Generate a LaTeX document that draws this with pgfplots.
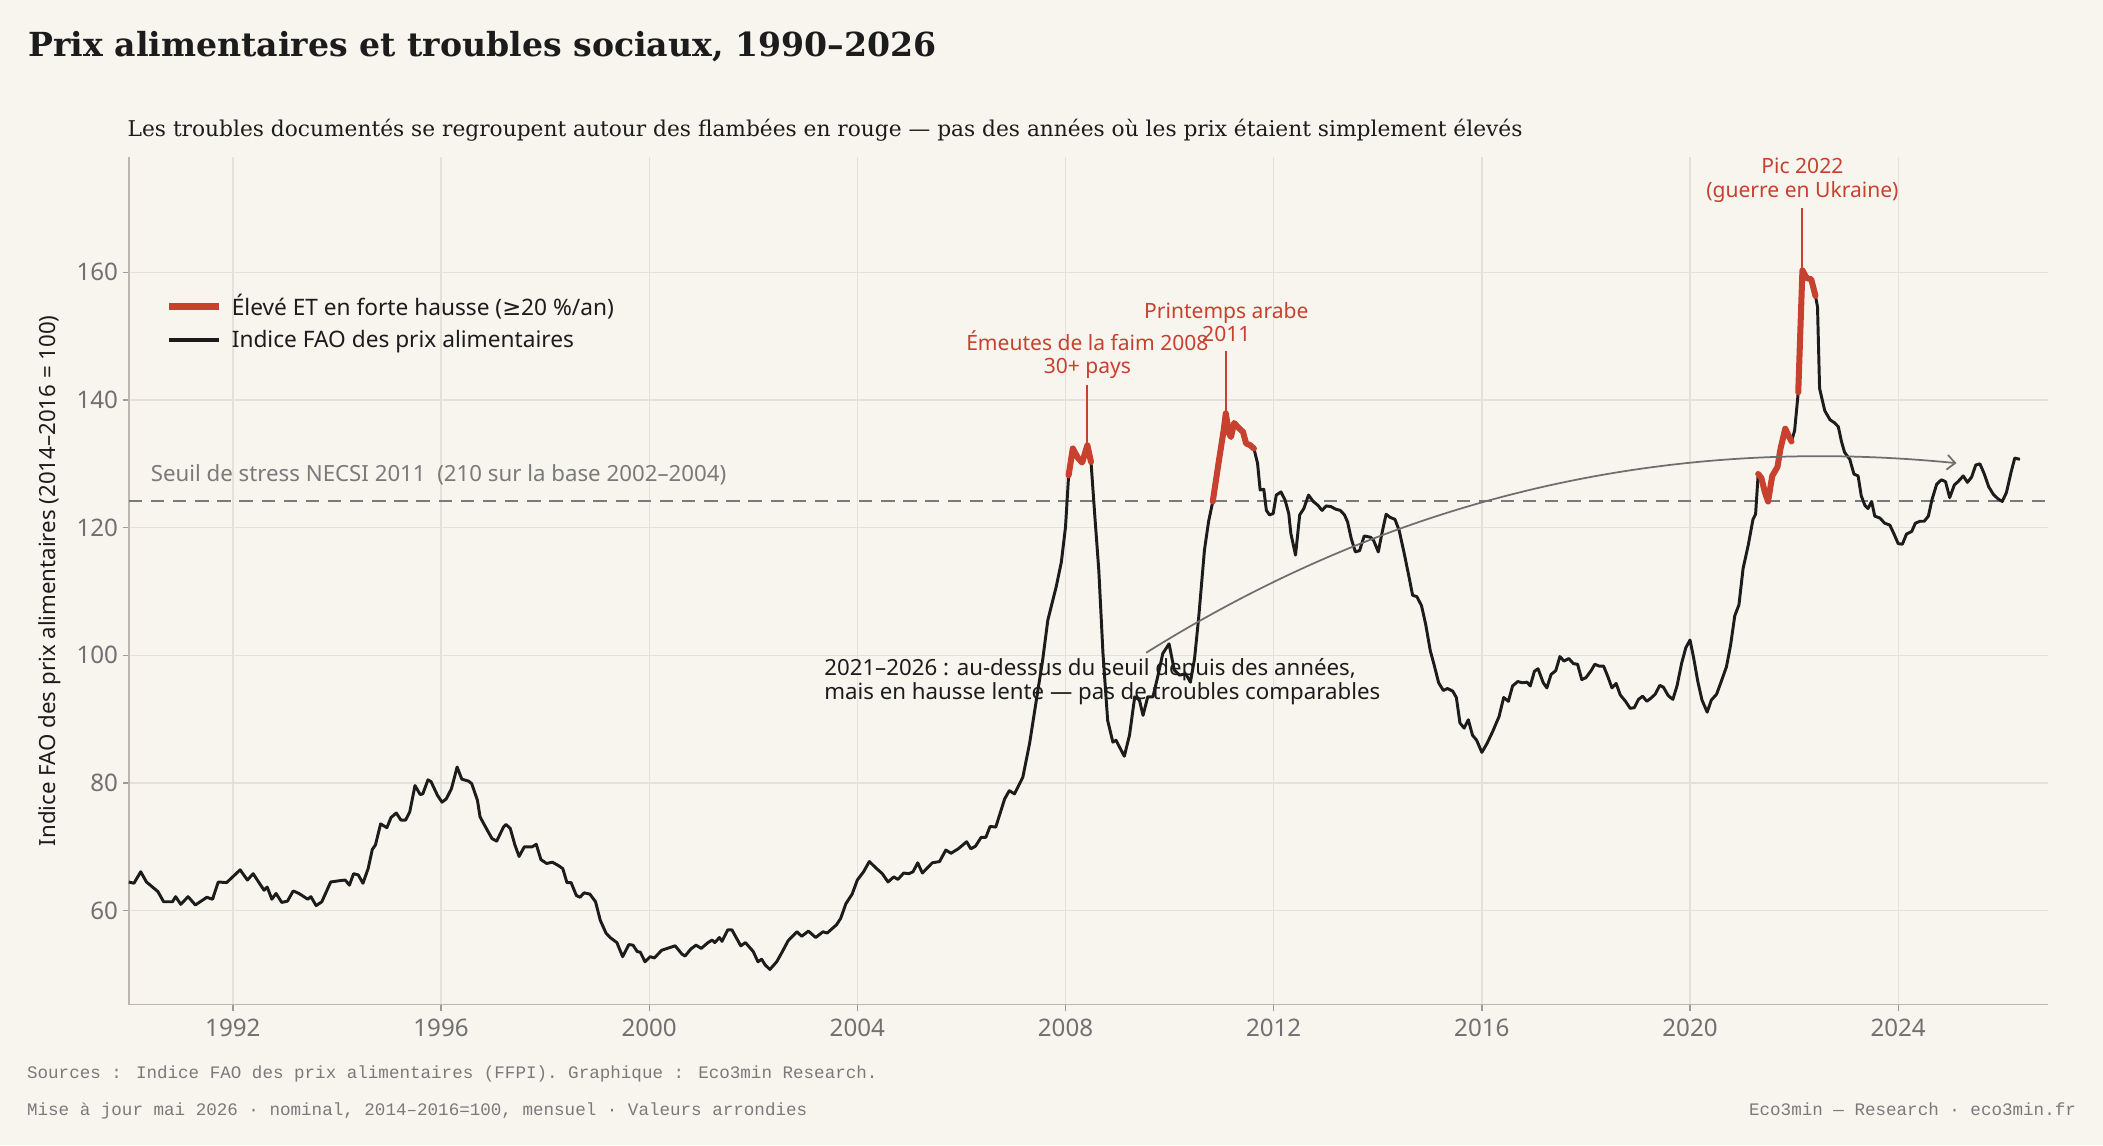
\documentclass[border=0pt]{standalone}
\usepackage{fontspec}
\setmainfont{Noto Sans}
\newfontfamily\serifS{DejaVu Serif}
\newfontfamily\monoT{Liberation Mono}
\newfontfamily\dejavu{DejaVu Sans}
\usepackage{pgfplots}
\usepackage{pgfplotstable}
\pgfplotsset{compat=1.18}
\usetikzlibrary{arrows.meta}

\definecolor{bg}{HTML}{F8F5EF}
\definecolor{redc}{HTML}{C8412F}
\definecolor{linec}{HTML}{1C1C1C}
\definecolor{gridc}{HTML}{E4E1DB}
\definecolor{spinec}{HTML}{BCB7AD}
\definecolor{tickc}{HTML}{707070}
\definecolor{thrc}{HTML}{7A7A7A}
\definecolor{arrc}{HTML}{6E6E6E}
\definecolor{footc}{HTML}{7A7A7A}

\pgfplotstableread{
x y
1990.00 64.5
1990.10 64.3
1990.23 66.1
1990.34 64.5
1990.56 63.0
1990.67 61.4
1990.84 61.4
1990.90 62.2
1991.00 61.0
1991.14 62.2
1991.28 60.9
1991.50 62.1
1991.61 61.8
1991.72 64.5
1991.88 64.4
1992.14 66.4
1992.28 64.8
1992.39 65.8
1992.60 63.2
1992.66 63.7
1992.75 61.8
1992.83 62.7
1992.94 61.3
1993.05 61.5
1993.16 63.1
1993.27 62.7
1993.44 61.8
1993.50 62.2
1993.60 60.8
1993.71 61.4
1993.88 64.5
1994.05 64.7
1994.16 64.8
1994.24 64.0
1994.32 65.8
1994.41 65.6
1994.50 64.3
1994.60 66.6
1994.68 69.6
1994.74 70.3
1994.84 73.6
1994.96 73.0
1995.04 74.6
1995.14 75.3
1995.23 74.2
1995.32 74.2
1995.40 75.5
1995.50 79.6
1995.60 78.2
1995.65 78.3
1995.75 80.5
1995.81 80.2
1995.93 78.1
1996.02 77.0
1996.10 77.5
1996.20 79.1
1996.31 82.5
1996.40 80.6
1996.53 80.3
1996.59 79.9
1996.70 77.3
1996.75 74.7
1996.87 72.9
1996.98 71.3
1997.07 70.9
1997.20 73.1
1997.25 73.5
1997.33 72.9
1997.42 70.3
1997.50 68.5
1997.60 70.0
1997.75 70.0
1997.83 70.4
1997.92 68.0
1998.03 67.4
1998.14 67.6
1998.25 67.1
1998.34 66.6
1998.42 64.4
1998.50 64.4
1998.60 62.4
1998.67 62.1
1998.75 62.8
1998.86 62.6
1998.97 61.4
1999.06 58.5
1999.17 56.5
1999.25 55.8
1999.38 55.0
1999.49 52.8
1999.61 54.7
1999.69 54.6
1999.77 53.6
1999.83 53.5
1999.92 52.0
2000.02 52.8
2000.10 52.6
2000.24 53.8
2000.35 54.1
2000.50 54.5
2000.63 53.2
2000.69 52.9
2000.80 54.0
2000.90 54.6
2001.00 54.1
2001.13 55.0
2001.21 55.4
2001.26 55.0
2001.35 55.8
2001.40 55.2
2001.51 57.0
2001.59 57.0
2001.76 54.5
2001.85 55.0
2002.00 53.6
2002.09 52.0
2002.16 52.4
2002.23 51.5
2002.32 50.8
2002.45 52.0
2002.56 53.6
2002.67 55.3
2002.84 56.7
2002.93 56.0
2003.06 56.8
2003.20 55.8
2003.34 56.7
2003.42 56.5
2003.60 57.8
2003.68 58.8
2003.78 61.1
2003.90 62.6
2004.00 64.8
2004.12 66.1
2004.23 67.7
2004.37 66.6
2004.48 65.8
2004.59 64.5
2004.70 65.3
2004.78 64.9
2004.89 65.9
2004.99 65.8
2005.07 66.1
2005.16 67.5
2005.25 65.9
2005.44 67.5
2005.58 67.7
2005.70 69.5
2005.80 69.0
2005.94 69.7
2006.10 70.8
2006.18 69.7
2006.27 70.1
2006.38 71.5
2006.47 71.5
2006.55 73.2
2006.66 73.1
2006.83 77.5
2006.92 78.8
2007.02 78.3
2007.18 80.9
2007.31 86.2
2007.44 93.0
2007.56 99.2
2007.66 105.5
2007.82 110.7
2007.92 114.6
2008.00 120.1
2008.06 128.2
2008.14 132.4
2008.24 130.9
2008.32 130.2
2008.42 132.9
2008.49 130.3
2008.56 122.2
2008.64 113.3
2008.72 100.3
2008.81 89.8
2008.91 86.4
2008.97 86.7
2009.04 85.6
2009.13 84.2
2009.23 87.5
2009.33 93.5
2009.42 93.0
2009.49 90.6
2009.58 93.5
2009.68 93.5
2009.77 96.6
2009.87 100.3
2009.99 101.8
2010.09 97.7
2010.19 96.9
2010.31 97.1
2010.40 95.8
2010.48 99.5
2010.56 106.0
2010.67 116.5
2010.75 121.0
2010.83 124.1
2010.94 130.1
2011.04 135.3
2011.08 137.9
2011.14 134.8
2011.18 134.2
2011.24 136.4
2011.33 135.6
2011.41 135.0
2011.47 133.2
2011.55 132.9
2011.62 132.4
2011.69 130.1
2011.74 125.9
2011.81 126.0
2011.86 122.7
2011.92 122.0
2011.99 122.2
2012.05 125.1
2012.14 125.6
2012.22 124.3
2012.29 122.2
2012.33 119.1
2012.42 115.7
2012.50 122.0
2012.58 123.0
2012.67 125.1
2012.76 124.1
2012.85 123.5
2012.93 122.7
2013.01 123.4
2013.10 123.3
2013.19 122.9
2013.28 122.7
2013.36 122.0
2013.42 120.9
2013.49 118.3
2013.57 116.2
2013.65 116.4
2013.74 118.7
2013.86 118.5
2013.92 118.0
2014.01 116.2
2014.08 119.1
2014.16 122.1
2014.24 121.6
2014.33 121.3
2014.41 119.6
2014.51 115.9
2014.60 112.3
2014.67 109.4
2014.75 109.2
2014.84 107.8
2014.92 104.9
2015.01 100.7
2015.08 98.6
2015.17 95.7
2015.26 94.5
2015.34 94.8
2015.44 94.4
2015.51 93.4
2015.58 89.4
2015.66 88.6
2015.74 89.9
2015.82 87.5
2015.90 86.7
2016.00 84.8
2016.10 86.2
2016.21 88.1
2016.33 90.4
2016.42 93.4
2016.51 92.8
2016.59 95.2
2016.69 95.9
2016.78 95.7
2016.87 95.8
2016.93 95.2
2017.01 97.5
2017.08 97.9
2017.18 95.7
2017.25 94.9
2017.33 97.0
2017.42 97.6
2017.50 99.8
2017.58 99.1
2017.67 99.5
2017.76 98.7
2017.84 98.6
2017.92 96.2
2018.00 96.5
2018.10 97.6
2018.17 98.6
2018.26 98.3
2018.34 98.3
2018.42 96.7
2018.50 94.9
2018.58 95.6
2018.66 93.8
2018.76 92.8
2018.85 91.7
2018.93 91.8
2019.01 93.1
2019.09 93.6
2019.17 92.8
2019.25 93.3
2019.33 93.9
2019.42 95.3
2019.49 95.0
2019.58 93.7
2019.67 93.1
2019.75 95.2
2019.84 98.8
2019.92 101.2
2020.00 102.4
2020.07 99.6
2020.15 95.9
2020.23 93.0
2020.33 91.1
2020.41 93.0
2020.51 93.9
2020.60 95.9
2020.70 98.2
2020.78 101.6
2020.86 106.2
2020.94 107.9
2021.02 113.6
2021.12 117.3
2021.21 121.3
2021.26 122.1
2021.31 128.4
2021.37 127.8
2021.44 125.5
2021.50 124.1
2021.58 128.1
2021.68 129.5
2021.74 132.4
2021.83 135.5
2021.95 133.5
2022.01 135.2
2022.08 141.2
2022.16 160.3
2022.24 159.1
2022.33 158.9
2022.41 156.3
2022.45 154.6
2022.49 141.8
2022.59 138.3
2022.69 136.9
2022.78 136.4
2022.85 135.8
2022.91 133.5
2022.97 131.8
2023.07 130.7
2023.15 128.4
2023.23 128.1
2023.29 125.0
2023.36 123.5
2023.42 123.0
2023.49 124.1
2023.55 121.8
2023.65 121.5
2023.74 120.7
2023.84 120.4
2023.92 119.0
2024.00 117.5
2024.08 117.4
2024.16 119.0
2024.26 119.4
2024.33 120.7
2024.42 121.0
2024.50 121.0
2024.58 121.8
2024.65 124.4
2024.74 126.8
2024.83 127.5
2024.91 127.2
2024.99 124.7
2025.08 126.7
2025.15 127.2
2025.25 128.1
2025.33 127.1
2025.41 127.9
2025.49 129.8
2025.57 130.0
2025.65 128.5
2025.74 126.4
2025.83 125.2
2025.92 124.5
2026.00 124.1
2026.08 125.5
2026.17 128.7
2026.24 130.9
2026.34 130.7
}\ffpi

\begin{document}
\begin{tikzpicture}
\fill[bg] (0,0) rectangle (1568pt,854pt);
\useasboundingbox (0,0) rectangle (1568pt,854pt);

\node[anchor=base west, inner sep=0pt, text=linec, font=\serifS\bfseries\fontsize{24.7}{29}\selectfont] at (21pt,811.7pt) {Prix alimentaires et troubles sociaux, 1990–2026};
\node[anchor=base west, inner sep=0pt, text=linec, font=\serifS\fontsize{16.2}{19}\selectfont] at (95pt,752.1pt) {Les troubles documentés se regroupent autour des flambées en rouge — pas des années où les prix étaient simplement élevés};

\begin{axis}[
  at={(96pt,105pt)}, anchor=south west,
  scale only axis, width=1431pt, height=632pt,
  xmin=1990, xmax=2026.88, ymin=45.3, ymax=178.07,
  axis x line*=bottom, axis y line*=left,
  axis line style={spinec, line width=1.2pt},
  xtick={1992,1996,2000,2004,2008,2012,2016,2020,2024},
  ytick={60,80,100,120,140,160},
  /pgf/number format/1000 sep={},
  /pgf/number format/assume math mode=true,
  tick align=outside, major tick length=4.5pt,
  tick style={color=tickc!70, line width=1pt},
  ticklabel style={font=\fontsize{18}{20}\selectfont, text=tickc},
  xticklabel style={yshift=-3pt},
  grid=major, grid style={gridc, line width=1pt},
  ylabel={Indice FAO des prix alimentaires (2014–2016 = 100)},
  every axis y label/.style={at={(axis description cs:-0.04124,0.5)}, rotate=90, anchor=center, font=\fontsize{16.6}{19}\selectfont, text=linec},
  clip=false,
  legend cell align=left,
  legend image code/.code={\draw[#1] (0pt,0pt) -- (37pt,0pt);},
  legend style={at={(axis cs:1990.70,156.55)}, anchor=north west, draw=none, fill=none,
    font=\fontsize{16.9}{19}\selectfont, text=linec, inner sep=0pt, row sep=9.2pt,
    nodes={inner sep=0pt},
    /tikz/every odd column/.append style={column sep=7pt}},
]
\addplot[thrc, line width=1.6pt, dash pattern=on 10pt off 6.5pt, forget plot] coordinates {(1990,124.2) (2026.88,124.2)};
\addplot[linec, line width=2.2pt, line join=round, forget plot] table[x=x,y=y]{\ffpi};
\addplot[redc, line width=4.5pt, line join=round, line cap=round, forget plot] coordinates {
(2008.06,128.2) (2008.14,132.4) (2008.24,130.9) (2008.32,130.2) (2008.42,132.9) (2008.49,130.3)};
\addplot[redc, line width=4.5pt, line join=round, line cap=round, forget plot] coordinates {
(2010.83,124.1) (2010.94,130.1) (2011.04,135.3) (2011.08,137.9) (2011.14,134.8) (2011.18,134.2) (2011.24,136.4) (2011.33,135.6) (2011.41,135.0) (2011.47,133.2) (2011.55,132.9) (2011.62,132.4)};
\addplot[redc, line width=4.5pt, line join=round, line cap=round, forget plot] coordinates {
(2021.31,128.4) (2021.37,127.8) (2021.44,125.5) (2021.50,124.1) (2021.58,128.1) (2021.68,129.5) (2021.74,132.4) (2021.83,135.5) (2021.95,133.5)};
\addplot[redc, line width=4.5pt, line join=round, line cap=round, forget plot] coordinates {
(2022.08,141.2) (2022.16,160.3) (2022.24,159.1) (2022.33,158.9) (2022.41,156.3)};

\addlegendimage{redc, line width=5.5pt}
\addlegendentry{Élevé ET en forte hausse ({\dejavu ≥}20 \%/an)}
\addlegendimage{linec, line width=2.6pt}
\addlegendentry{Indice FAO des prix alimentaires}

% threshold label
\node[anchor=base west, inner sep=0pt, text=thrc, font=\fontsize{16.6}{19}\selectfont] at (axis cs:1990.42,127.2) {Seuil de stress NECSI 2011\ \ (210 sur la base 2002–2004)};

% event annotations
\draw[redc, line width=1.4pt] (axis cs:2008.41,132.9) -- (axis cs:2008.41,142.3);
\node[anchor=base, inner sep=0pt, text=redc, font=\fontsize{15.7}{19}\selectfont] at (axis cs:2008.42,147.8) {Émeutes de la faim 2008};
\node[anchor=base, inner sep=0pt, text=redc, font=\fontsize{15.7}{19}\selectfont] at (axis cs:2008.42,144.2) {30+ pays};

\draw[redc, line width=1.4pt] (axis cs:2011.09,137.9) -- (axis cs:2011.09,147.6);
\node[anchor=base, inner sep=0pt, text=redc, font=\fontsize{15.7}{19}\selectfont] at (axis cs:2011.09,152.8) {Printemps arabe};
\node[anchor=base, inner sep=0pt, text=redc, font=\fontsize{15.7}{19}\selectfont] at (axis cs:2011.09,149.1) {2011};

\draw[redc, line width=1.4pt] (axis cs:2022.16,160.3) -- (axis cs:2022.16,170.0);
\node[anchor=base, inner sep=0pt, text=redc, font=\fontsize{15.7}{19}\selectfont] at (axis cs:2022.16,175.4) {Pic 2022};
\node[anchor=base, inner sep=0pt, text=redc, font=\fontsize{15.7}{19}\selectfont] at (axis cs:2022.16,171.7) {(guerre en Ukraine)};

% curved arrow and note
\draw[arrc, line width=1.3pt, -{Straight Barb[length=6pt,width=11pt]}] (axis cs:2009.55,100.4) .. controls (axis cs:2014.32,124.75) and (axis cs:2019.51,134.65) .. (axis cs:2025.12,130.1);
\node[anchor=base west, inner sep=0pt, text=linec, font=\fontsize{16.6}{19}\selectfont] at (axis cs:2003.36,96.9) {2021–2026 : au-dessus du seuil depuis des années,};
\node[anchor=base west, inner sep=0pt, text=linec, font=\fontsize{16.6}{19}\selectfont] at (axis cs:2003.36,93.1) {mais en hausse lente — pas de troubles comparables};
\end{axis}

\node[anchor=base west, inner sep=0pt, text=footc, font=\monoT\fontsize{13.1}{15}\selectfont] at (20pt,49.9pt) {Sources : Indice FAO des prix alimentaires (FFPI). Graphique : Eco3min Research.};
\node[anchor=base west, inner sep=0pt, text=footc, font=\monoT\fontsize{13.1}{15}\selectfont] at (20pt,22.5pt) {Mise à jour mai 2026 · nominal, 2014–2016=100, mensuel · Valeurs arrondies};
\node[anchor=base east, inner sep=0pt, text=footc, font=\monoT\fontsize{13.1}{15}\selectfont] at (1548pt,22.5pt) {Eco3min — Research · eco3min.fr};
\end{tikzpicture}
\end{document}
